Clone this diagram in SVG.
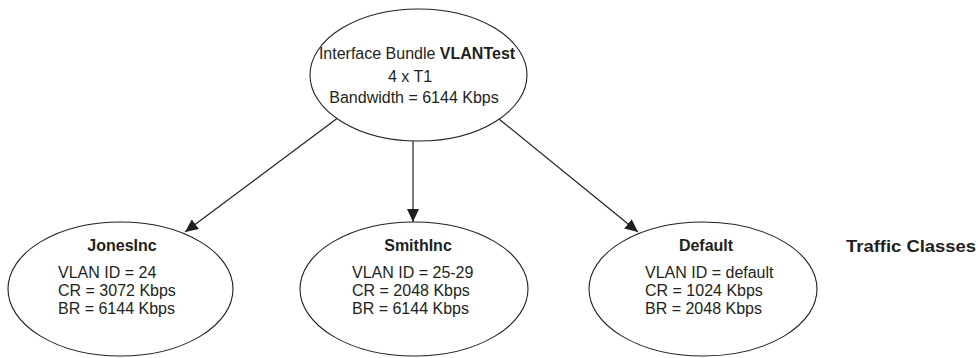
<svg xmlns="http://www.w3.org/2000/svg" width="978" height="358" viewBox="0 0 978 358">
  <style>
    .node { fill: #ffffff; stroke: #231f20; stroke-width: 1.1; }
    .t { font-family: "Liberation Sans", Arial, sans-serif; font-size: 16px; fill: #231f20; }
    .b { font-weight: bold; }
    .edge { stroke: #231f20; stroke-width: 1.2; fill: none; marker-end: url(#arrow); }
  </style>
  <defs>
    <marker id="arrow" markerUnits="userSpaceOnUse" markerWidth="14" markerHeight="12" refX="13" refY="6" orient="auto">
      <path d="M0,0 L13,6 L0,12 Z" fill="#231f20"/>
    </marker>
  </defs>

  <!-- connectors from the bundle to each traffic class -->
  <g id="connectors">
    <line class="edge" x1="337" y1="118.5" x2="185" y2="232"/>
    <line class="edge" x1="413" y1="141" x2="413" y2="222"/>
    <line class="edge" x1="499" y1="119" x2="638" y2="232"/>
  </g>

  <!-- interface bundle -->
  <g id="bundle">
    <ellipse class="node" cx="418.5" cy="75" rx="108.5" ry="66"/>
    <text class="t" x="417" y="59" text-anchor="middle">Interface Bundle <tspan class="b">VLANTest</tspan></text>
    <text class="t" x="410" y="82" text-anchor="middle">4 x T1</text>
    <text class="t" x="414" y="103" text-anchor="middle">Bandwidth = 6144 Kbps</text>
  </g>

  <!-- traffic class: JonesInc -->
  <g id="jonesinc">
    <ellipse class="node" cx="120.5" cy="289" rx="112.5" ry="67"/>
    <text class="t b" x="122" y="251" text-anchor="middle">JonesInc</text>
    <text class="t" x="58" y="277.5">VLAN ID = 24</text>
    <text class="t" x="58" y="296">CR = 3072 Kbps</text>
    <text class="t" x="58" y="314">BR = 6144 Kbps</text>
  </g>

  <!-- traffic class: SmithInc -->
  <g id="smithinc">
    <ellipse class="node" cx="414" cy="289" rx="114" ry="67"/>
    <text class="t b" x="418" y="251" text-anchor="middle">SmithInc</text>
    <text class="t" x="352" y="277.5">VLAN ID = 25-29</text>
    <text class="t" x="352" y="296">CR = 2048 Kbps</text>
    <text class="t" x="352" y="314">BR = 6144 Kbps</text>
  </g>

  <!-- traffic class: Default -->
  <g id="default">
    <ellipse class="node" cx="703" cy="289" rx="114" ry="67"/>
    <text class="t b" x="706" y="251" text-anchor="middle">Default</text>
    <text class="t" x="645" y="277.5">VLAN ID = default</text>
    <text class="t" x="645" y="296">CR = 1024 Kbps</text>
    <text class="t" x="645" y="314">BR = 2048 Kbps</text>
  </g>

  <!-- legend -->
  <g id="legend">
    <text class="t b" x="846" y="252" font-size="20" textLength="130" lengthAdjust="spacingAndGlyphs">Traffic Classes</text>
  </g>
</svg>
